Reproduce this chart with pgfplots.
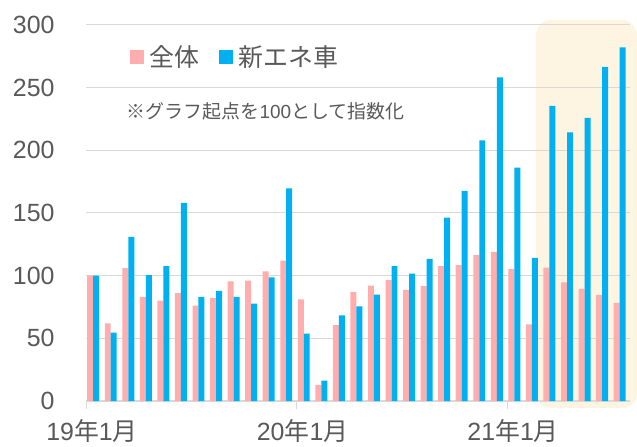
\documentclass[border=0pt]{standalone}
\usepackage{fontspec}
\setmainfont{Liberation Sans}
\newfontfamily\jp{Noto Sans CJK JP}
\usepackage{pgfplots}
\usepackage{pgfplotstable}
\pgfplotsset{compat=1.18}
\definecolor{pinkbar}{HTML}{FFADAD}
\definecolor{bluebar}{HTML}{00B0F0}
\definecolor{txt}{HTML}{595959}
\definecolor{gridc}{HTML}{D9D9D9}
\definecolor{cream}{HTML}{FDF5E1}
\pgfplotstableread{
m total nev
0 100 100
1 62 54.5
2 106 131
3 83 100.5
4 80 107.7
5 86 158
6 76 83
7 82 87.8
8 95.5 83
9 96 77.6
10 103.5 98.7
11 112 169.7
12 81 53.7
13 12.8 16.2
14 60.6 68.4
15 87 75.5
16 92 84.8
17 96.5 107.7
18 88.6 101.6
19 91.8 113.3
20 107.7 146.4
21 108.4 167.6
22 116.5 208
23 118.9 258.3
24 105.3 186.2
25 61.2 114.1
26 106.4 235.4
27 94.7 214.4
28 89.4 225.8
29 84.6 266.5
30 78.2 282.2
}\data
\begin{document}
\begin{tikzpicture}
\begin{axis}[
  set layers,
  scale only axis, width=544bp, height=376bp,
  xmin=0, xmax=31, ymin=0, ymax=300,
  clip=false,
  xtick={0,12,24},
  xticklabels={19{\jp 年}1{\jp 月}, 20{\jp 年}1{\jp 月}, 21{\jp 年}1{\jp 月}},
  ytick={0,50,...,300},
  ymajorgrids, grid style={gridc, line width=1bp},
  axis x line*=bottom, axis y line*=left,
  y axis line style={draw=none},
  x axis line style={gridc, line width=1.2bp, -},
  ytick style={draw=none},
  xtick style={gridc, line width=1bp},
  xtick align=outside, major tick length=8bp,
  tick label style={font=\fontsize{25}{30}\selectfont, text=txt},
  /pgf/number format/assume math mode=true,
  yticklabel style={xshift=-28bp},
  xticklabel style={xshift=6bp, yshift=-6.5bp},
  legend style={at={(0.075,0.915)}, anchor=west, draw=none, fill=none,
    font=\fontsize{25}{30}\selectfont\jp, text=txt,
    /tikz/every odd column/.append style={column sep=4bp},
    /tikz/every even column/.append style={column sep=17bp}},
  legend columns=2,
  sq/.style={legend image code/.code={\fill[##1] (0bp,-7bp) rectangle (14bp,7bp);}},
]
\begin{pgfonlayer}{axis background}
\fill[cream, rounded corners=15bp] (axis cs:25.64,-5.6) rectangle (axis cs:31.4,304);
\end{pgfonlayer}
\addplot[ybar, bar width=0.34, bar shift=0pt, fill=pinkbar, draw=none, sq]
  table[x expr=\thisrow{m}+0.24, y=total] {\data};
\addlegendentry{全体}
\addplot[ybar, bar width=0.34, bar shift=0pt, fill=bluebar, draw=none, sq]
  table[x expr=\thisrow{m}+0.58, y=nev] {\data};
\addlegendentry{新エネ車}
\node[anchor=west, font=\fontsize{19}{22}\selectfont, text=txt, inner sep=0pt]
  at (rel axis cs:0.075,0.769) {{\jp ※グラフ起点を}100{\jp として指数化}};
\end{axis}
\pgfresetboundingbox
\path[use as bounding box] (-86bp,-46bp) rectangle (551bp,401bp);
\end{tikzpicture}
\end{document}
